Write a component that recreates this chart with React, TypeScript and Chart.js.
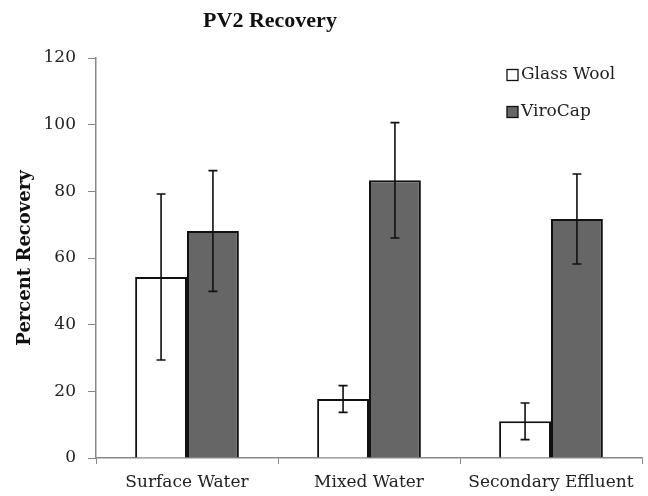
import React, { useEffect, useRef } from "react";
import { Chart, registerables } from "chart.js";

Chart.register(...registerables);

const categories = ["Surface Water", "Mixed Water", "Secondary Effluent"];
const seriesNames = ["Glass Wool", "ViroCap"];
const glassWool = [54.3, 17.7, 11.0];
const glassWoolErr = [24.9, 4.0, 5.5];
const viroCap = [68.1, 83.3, 71.7];
const viroCapErr = [18.1, 17.3, 13.5];
const yTicks = [0, 20, 40, 60, 80, 100, 120];

const SERIF = "'DejaVu Serif', serif";

const errorBarPlugin = {
  id: "errorBars",
  afterDatasetsDraw(chart: any) {
    const ctx = chart.ctx;
    const yScale = chart.scales.y;
    const errs = [glassWoolErr, viroCapErr];
    ctx.save();
    ctx.strokeStyle = "#111";
    ctx.lineWidth = 1.6;
    chart.data.datasets.forEach((ds: any, di: number) => {
      const meta = chart.getDatasetMeta(di);
      meta.data.forEach((bar: any, i: number) => {
        const v = ds.data[i];
        const e = errs[di][i];
        const x = bar.x;
        const yt = yScale.getPixelForValue(v + e);
        const yb = yScale.getPixelForValue(v - e);
        const cap = 4.5;
        ctx.beginPath();
        ctx.moveTo(x, yt);
        ctx.lineTo(x, yb);
        ctx.moveTo(x - cap, yt);
        ctx.lineTo(x + cap, yt);
        ctx.moveTo(x - cap, yb);
        ctx.lineTo(x + cap, yb);
        ctx.stroke();
      });
    });
    ctx.restore();
  },
};

const titleLegendPlugin = {
  id: "titleLegend",
  afterDraw(chart: any) {
    const ctx = chart.ctx;
    ctx.save();
    ctx.fillStyle = "#111";
    ctx.font = "bold 22px 'Liberation Serif', serif";
    ctx.textAlign = "center";
    ctx.textBaseline = "alphabetic";
    ctx.fillText("PV2 Recovery", 270, 27);
    const fills = ["#ffffff", "#666666"];
    const ys = [75, 112];
    ctx.font = "17px " + SERIF;
    ctx.textAlign = "left";
    ctx.textBaseline = "middle";
    seriesNames.forEach((name, i) => {
      ctx.fillStyle = fills[i];
      ctx.fillRect(507, ys[i] - 5.5, 11, 11);
      ctx.strokeStyle = "#111";
      ctx.lineWidth = 1.3;
      ctx.strokeRect(507, ys[i] - 5.5, 11, 11);
      ctx.fillStyle = "#222";
      ctx.fillText(name, 521, ys[i]);
    });
    ctx.restore();
  },
};

export default function App() {
  const ref = useRef<HTMLCanvasElement | null>(null);

  useEffect(() => {
    if (!ref.current) return;
    const chart = new Chart(ref.current, {
      type: "bar",
      data: {
        labels: categories,
        datasets: [
          {
            label: seriesNames[0],
            data: glassWool,
            backgroundColor: "#ffffff",
            borderColor: "#111",
            borderWidth: 2,
            categoryPercentage: 0.57,
            barPercentage: 1,
          },
          {
            label: seriesNames[1],
            data: viroCap,
            backgroundColor: "#666666",
            borderColor: "#111",
            borderWidth: 2,
            categoryPercentage: 0.57,
            barPercentage: 1,
          },
        ],
      },
      options: {
        responsive: false,
        animation: false,
        layout: { padding: { top: 58, right: 6, left: 0, bottom: 0 } },
        plugins: {
          legend: { display: false },
          title: { display: false },
          tooltip: { enabled: false },
        },
        scales: {
          x: {
            afterFit(scale: any) {
              scale.height = 38;
            },
            grid: {
              offset: true,
              drawOnChartArea: false,
              drawTicks: true,
              tickLength: 6,
              color: "#888",
            },
            border: { color: "#888", width: 1.5 },
            ticks: {
              color: "#222",
              font: { family: SERIF, size: 17 },
              padding: 8,
            },
          },
          y: {
            min: 0,
            max: 120,
            afterBuildTicks(scale: any) {
              scale.ticks = yTicks.map((v) => ({ value: v }));
            },
            afterFit(scale: any) {
              scale.width = 96;
            },
            grid: {
              drawOnChartArea: false,
              drawTicks: true,
              tickLength: 8,
              color: "#888",
            },
            border: { color: "#888", width: 1.5 },
            ticks: {
              color: "#222",
              font: { family: SERIF, size: 17 },
              padding: 12,
            },
            title: {
              display: true,
              text: "Percent Recovery",
              color: "#111",
              font: { family: SERIF, size: 18, weight: "bold" },
              padding: { top: 15, bottom: 0 },
            },
          },
        },
      },
      plugins: [errorBarPlugin, titleLegendPlugin],
    });
    return () => chart.destroy();
  }, []);

  return (
    <div style={{ position: "absolute", left: 0, top: 0, width: 648, height: 496, background: "#fff" }}>
      <canvas ref={ref} width={648} height={496} style={{ display: "block" }} />
    </div>
  );
}
